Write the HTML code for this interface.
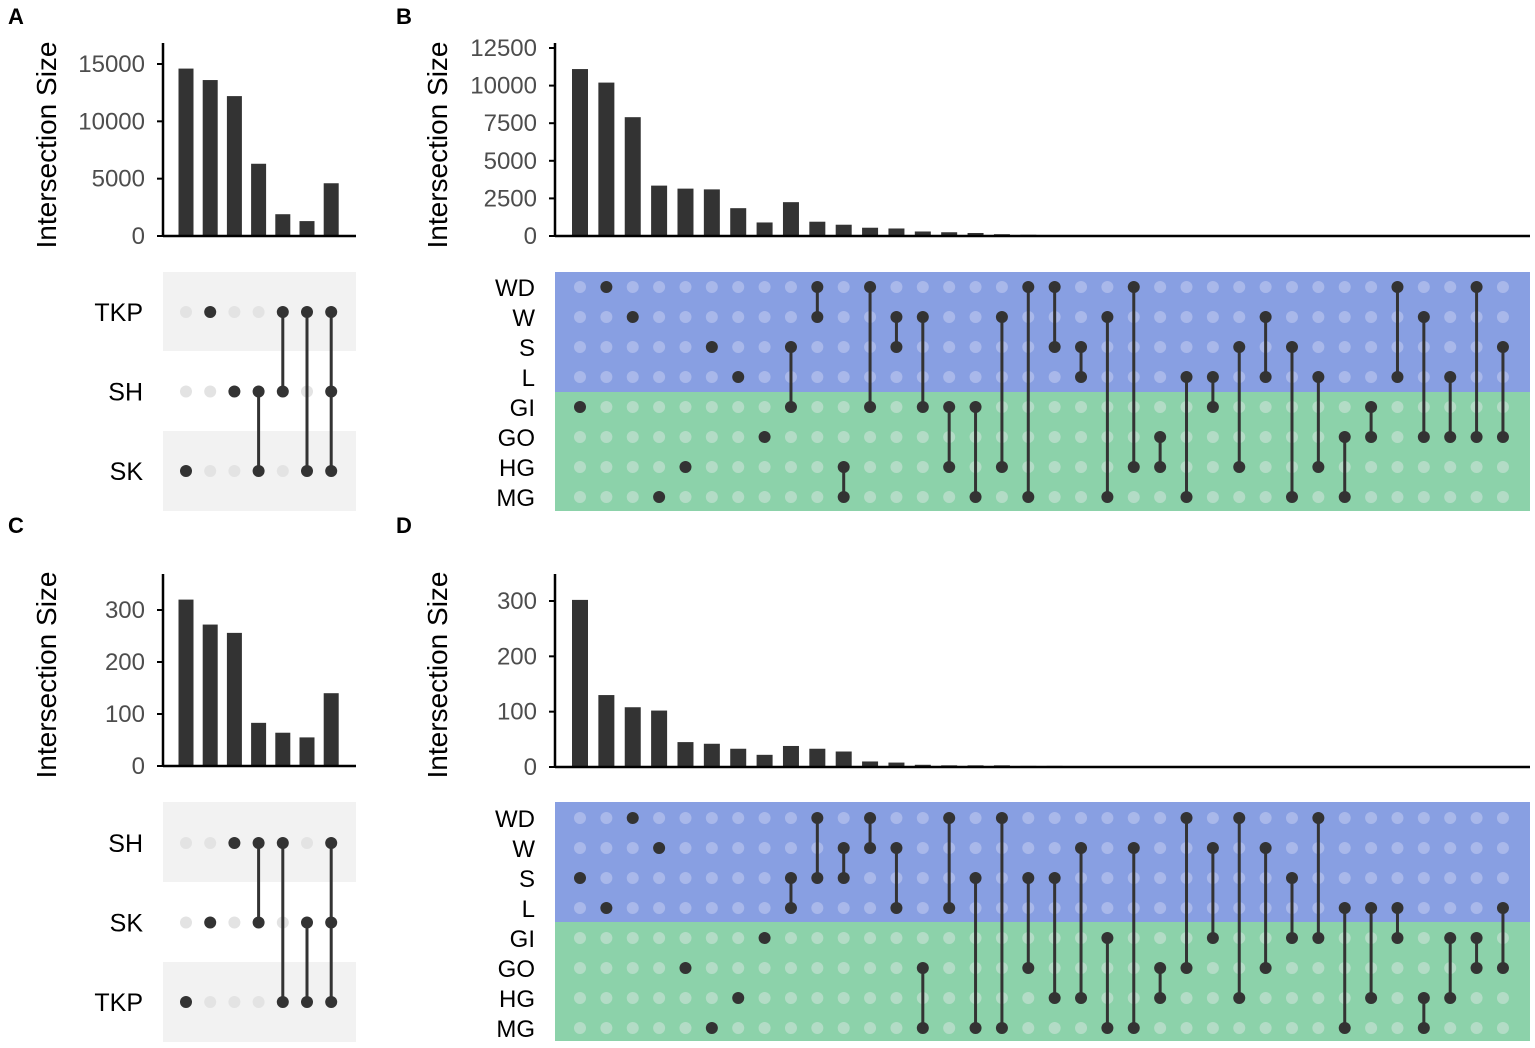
<!DOCTYPE html>
<html><head><meta charset="utf-8"><style>
body{margin:0;background:#fff}
svg{display:block;font-family:"Liberation Sans",sans-serif}
</style></head><body>
<svg id="c" width="1535" height="1048" viewBox="0 0 1535 1048"></svg>
<script>
const aSets=["TKP","SH","SK"];
const aValues=[14600,13600,12200,6300,1900,1300,4600];
const aCombos=[["SK"],["TKP"],["SH"],["SH","SK"],["TKP","SH"],["TKP","SK"],["TKP","SH","SK"]];
const aTicks=[0,5000,10000,15000];
const cSets=["SH","SK","TKP"];
const cValues=[320,272,256,83,64,55,140];
const cCombos=[["TKP"],["SK"],["SH"],["SH","SK"],["SH","TKP"],["SK","TKP"],["SH","SK","TKP"]];
const cTicks=[0,100,200,300];
const bigSets=["WD","W","S","L","GI","GO","HG","MG"];
const bValues=[11100,10200,7900,3350,3150,3100,1850,900,2250,950,750,550,500,300,250,200,120,80,50,30,20,10,5,0,0,0,0,0,0,0,0,0,0,0,0,0];
const bCombos=[["GI"],["WD"],["W"],["MG"],["HG"],["S"],["L"],["GO"],["S","GI"],["WD","W"],["HG","MG"],["WD","GI"],["W","S"],["W","GI"],["GI","HG"],["GI","MG"],["W","HG"],["WD","MG"],["WD","S"],["S","L"],["W","MG"],["WD","HG"],["GO","HG"],["L","MG"],["L","GI"],["S","HG"],["W","L"],["S","MG"],["L","HG"],["GO","MG"],["GI","GO"],["WD","L"],["W","GO"],["L","GO"],["WD","GO"],["S","GO"]];
const bTicks=[0,2500,5000,7500,10000,12500];
const dValues=[302,130,108,102,45,42,33,22,38,33,28,10,8,4,3,3,3,2,2,1,1,0,0,0,0,0,0,0,0,0,0,0,0,0,0,0];
const dCombos=[["S"],["L"],["WD"],["W"],["GO"],["MG"],["HG"],["GI"],["S","L"],["WD","S"],["W","S"],["WD","W"],["W","L"],["GO","MG"],["WD","L"],["S","MG"],["WD","MG"],["S","GO"],["S","HG"],["W","HG"],["GI","MG"],["W","MG"],["GO","HG"],["WD","GO"],["W","GI"],["WD","HG"],["W","GO"],["S","GI"],["WD","GI"],["L","MG"],["L","HG"],["L","GI"],["HG","MG"],["GI","HG"],["GI","GO"],["L","GO"]];
const dTicks=[0,100,200,300];

const svg=document.getElementById('c');
const NS="http://www.w3.org/2000/svg";
function el(tag,attrs,parent,text){const e=document.createElementNS(NS,tag);for(const k in attrs)e.setAttribute(k,attrs[k]);if(text!==undefined)e.textContent=text;(parent||svg).appendChild(e);return e;}

function panel(o){
  const g=el('g',{});
  
  
  const ys=v=>o.y0-(v/o.ymax)*(o.y0-o.yTop);
  const xs=i=>o.x1+i*o.dx;
  const L=el('text',{x:o.letterX,y:o.letterY,'font-size':22,'font-weight':'bold',fill:'#000'},g,o.letter);
  
  
  const t=el('text',{transform:`translate(${o.titleX},${o.titleY}) rotate(-90)`,'text-anchor':'middle','font-size':28,fill:'#000'},g,'Intersection Size');
  
  
  o.values.forEach((v,i)=>{
    const h=o.y0-ys(v);
    if(h<=0)return;
    const b=el('rect',{x:xs(i)-o.bw/2,y:ys(v),width:o.bw,height:h,fill:'#333'},g);
    
    
  });
  const ya=el('line',{x1:o.ax,y1:o.axTop,x2:o.ax,y2:o.y0+1,stroke:'#000','stroke-width':2.5},g);
  
  
  const xa=el('line',{x1:o.ax,y1:o.y0,x2:o.axRight,y2:o.y0,stroke:'#000','stroke-width':2.5},g);
  
  
  o.ticks.forEach(v=>{
    el('line',{x1:o.ax-6,y1:ys(v),x2:o.ax,y2:ys(v),stroke:'#000','stroke-width':2},g);
    const tl=el('text',{x:o.ax-18,y:ys(v)+8,'text-anchor':'end','font-size':o.tickSize,fill:'#4d4d4d'},g,String(v));
    
    
  });
  o.bands.forEach(bd=>{el('rect',{x:o.ax,y:bd[0],width:o.axRight-o.ax,height:bd[1]-bd[0],fill:bd[2]},g);});
  const ry=r=>o.mTop+o.mdy*r;
  o.sets.forEach((s,r)=>{
    const sl=el('text',{x:o.labelX,y:ry(r)+9,'text-anchor':'end','font-size':o.labelSize,fill:'#000'},g,s);
    
    
  });
  o.combos.forEach((c,i)=>{
    const x=xs(i);
    o.sets.forEach((s,r)=>{
      const on=c.includes(s);
      el('circle',{cx:x,cy:ry(r),r:o.dr,fill:on?'#333':o.lightFor(r)},g);
    });
    const rows=c.map(s=>o.sets.indexOf(s));
    if(rows.length>1){
      const ln=el('line',{x1:x,y1:ry(Math.min(...rows)),x2:x,y2:ry(Math.max(...rows)),stroke:'#333','stroke-width':3},g);
      
      
    }
  });
}
const blue='#889fe2',green='#8cd2aa';
panel({name:'panel-a',letter:'A',letterX:8,letterY:24,titleX:56,titleY:145,values:aValues,ticks:aTicks,tickSize:24,ymax:15000,y0:236,yTop:64,axTop:43,ax:163,axRight:356,x1:186,dx:24.2,bw:15,
  sets:aSets,combos:aCombos,mTop:312,mdy:79.5,dr:6,labelX:143,labelSize:25,
  bands:[[272,351,'#f2f2f2'],[431,511,'#f2f2f2']],lightFor:()=>'#e3e3e3'});
panel({name:'panel-c',letter:'C',letterX:8,letterY:533,titleX:56,titleY:675,values:cValues,ticks:cTicks,tickSize:24,ymax:300,y0:766,yTop:610,axTop:574,ax:163,axRight:356,x1:186,dx:24.2,bw:15,
  sets:cSets,combos:cCombos,mTop:843,mdy:79.5,dr:6,labelX:143,labelSize:25,
  bands:[[802,882,'#f2f2f2'],[962,1042,'#f2f2f2']],lightFor:()=>'#e3e3e3'});
panel({name:'panel-b',letter:'B',letterX:396,letterY:24,titleX:447,titleY:145,values:bValues,ticks:bTicks,tickSize:24,ymax:12500,y0:236,yTop:48,axTop:43,ax:555,axRight:1530,x1:580,dx:26.37,bw:16,
  sets:bigSets,combos:bCombos,mTop:287,mdy:30,dr:6,labelX:535,labelSize:24,
  bands:[[272,392,blue],[392,511,green]],lightFor:r=>r<4?'#a9b8ea':'#b3dcc6'});
panel({name:'panel-d',letter:'D',letterX:396,letterY:533,titleX:447,titleY:675,values:dValues,ticks:dTicks,tickSize:24,ymax:300,y0:767,yTop:601,axTop:574,ax:555,axRight:1530,x1:580,dx:26.37,bw:16,
  sets:bigSets,combos:dCombos,mTop:818,mdy:30,dr:6,labelX:535,labelSize:24,
  bands:[[802,922,blue],[922,1041,green]],lightFor:r=>r<4?'#a9b8ea':'#b3dcc6'});
</script>
</body></html>
